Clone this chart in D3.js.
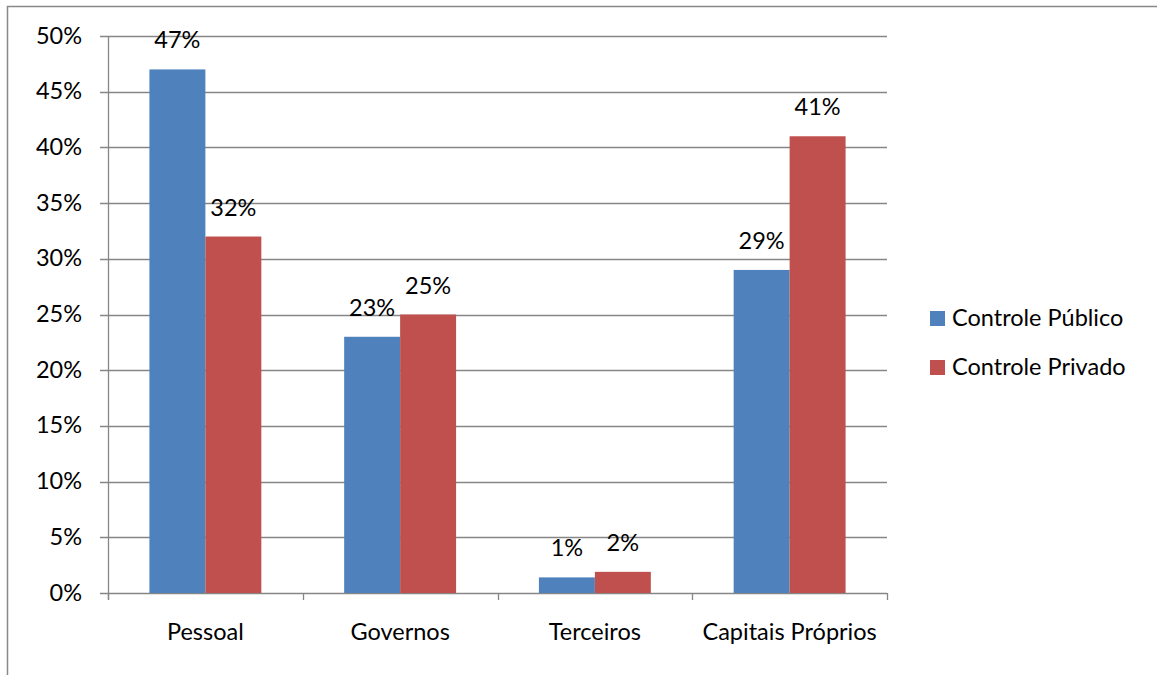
<!DOCTYPE html>
<html>
<head>
<meta charset="utf-8">
<script src="https://cdn.jsdelivr.net/npm/d3@7"></script>
<style>
  html, body { margin: 0; padding: 0; background: #fff; }
  svg { display: block; font-family: Lato, "Open Sans", sans-serif; }
</style>
</head>
<body>
<svg id="chart" width="1157" height="675"></svg>
<script>
// Sources of funding by type of control
const categories = ["Pessoal", "Governos", "Terceiros", "Capitais Próprios"];
const seriesNames = ["Controle Público", "Controle Privado"];
const publico = [0.47, 0.23, 0.014, 0.29];
const privado = [0.32, 0.25, 0.019, 0.41];
const yTicks = [0, 0.05, 0.10, 0.15, 0.20, 0.25, 0.30, 0.35, 0.40, 0.45, 0.50];
const colors = ["#4F81BD", "#C0504D"];

const svg = d3.select("#chart");
const plot = { left: 108, right: 887, top: 36, bottom: 593 };
const fontSize = 23.5;

// outer chart frame
svg.append("rect")
  .attr("x", 7.5).attr("y", 6.5)
  .attr("width", 1200).attr("height", 700)
  .attr("fill", "none").attr("stroke", "#888").attr("stroke-width", 1.5);

const x0 = d3.scaleBand().domain(categories).range([plot.left, plot.right]);
const x1 = d3.scaleBand().domain(seriesNames)
  .range([0, x0.bandwidth()]).paddingOuter(0.74);
const y = d3.scaleLinear().domain([0, 0.5]).range([plot.bottom, plot.top]);
const fmt = d3.format(".0%");

// gridlines
svg.append("g").selectAll("line").data(yTicks).join("line")
  .attr("x1", plot.left - 8).attr("x2", plot.right)
  .attr("y1", d => Math.round(y(d)) + 0.5).attr("y2", d => Math.round(y(d)) + 0.5)
  .attr("stroke", "#868686").attr("stroke-width", 1.3);

// y axis line
svg.append("line")
  .attr("x1", plot.left + 0.5).attr("x2", plot.left + 0.5)
  .attr("y1", plot.top).attr("y2", plot.bottom + 7)
  .attr("stroke", "#868686").attr("stroke-width", 1.3);

// y tick labels
svg.append("g").selectAll("text").data(yTicks).join("text")
  .attr("x", 82).attr("y", d => y(d) + 7.5)
  .attr("text-anchor", "end")
  .attr("font-size", fontSize).attr("fill", "#000")
  .text(d => fmt(d));

// category tick marks at band boundaries
const boundaries = categories.map(c => x0(c)).concat([plot.right]);
svg.append("g").selectAll("line").data(boundaries).join("line")
  .attr("x1", d => Math.round(d) + 0.5).attr("x2", d => Math.round(d) + 0.5)
  .attr("y1", plot.bottom).attr("y2", plot.bottom + 7)
  .attr("stroke", "#868686").attr("stroke-width", 1.3);

// category labels
svg.append("g").selectAll("text").data(categories).join("text")
  .attr("x", d => x0(d) + x0.bandwidth() / 2).attr("y", 640)
  .attr("text-anchor", "middle")
  .attr("font-size", fontSize).attr("fill", "#000")
  .text(d => d);

// bars
const rows = categories.map((c, i) => ({
  cat: c,
  vals: [{ s: seriesNames[0], v: publico[i] }, { s: seriesNames[1], v: privado[i] }]
}));

const groups = svg.append("g").selectAll("g").data(rows).join("g")
  .attr("transform", d => `translate(${x0(d.cat)},0)`);

groups.selectAll("rect").data(d => d.vals).join("rect")
  .attr("x", d => x1(d.s)).attr("width", x1.bandwidth())
  .attr("y", d => y(d.v)).attr("height", d => y(0) - y(d.v))
  .attr("fill", (d, i) => colors[i]);

groups.selectAll("text").data(d => d.vals).join("text")
  .attr("x", d => x1(d.s) + x1.bandwidth() / 2)
  .attr("y", d => y(d.v) - 21)
  .attr("text-anchor", "middle")
  .attr("font-size", fontSize).attr("fill", "#000")
  .text(d => fmt(d.v));

// legend
const legend = svg.append("g").selectAll("g").data(seriesNames).join("g")
  .attr("transform", (d, i) => `translate(930,${311 + i * 49})`);
legend.append("rect").attr("width", 15).attr("height", 15)
  .attr("fill", (d, i) => colors[i]);
legend.append("text").attr("x", 22).attr("y", 14.5)
  .attr("font-size", fontSize).attr("fill", "#000").text(d => d);
</script>
</body>
</html>
